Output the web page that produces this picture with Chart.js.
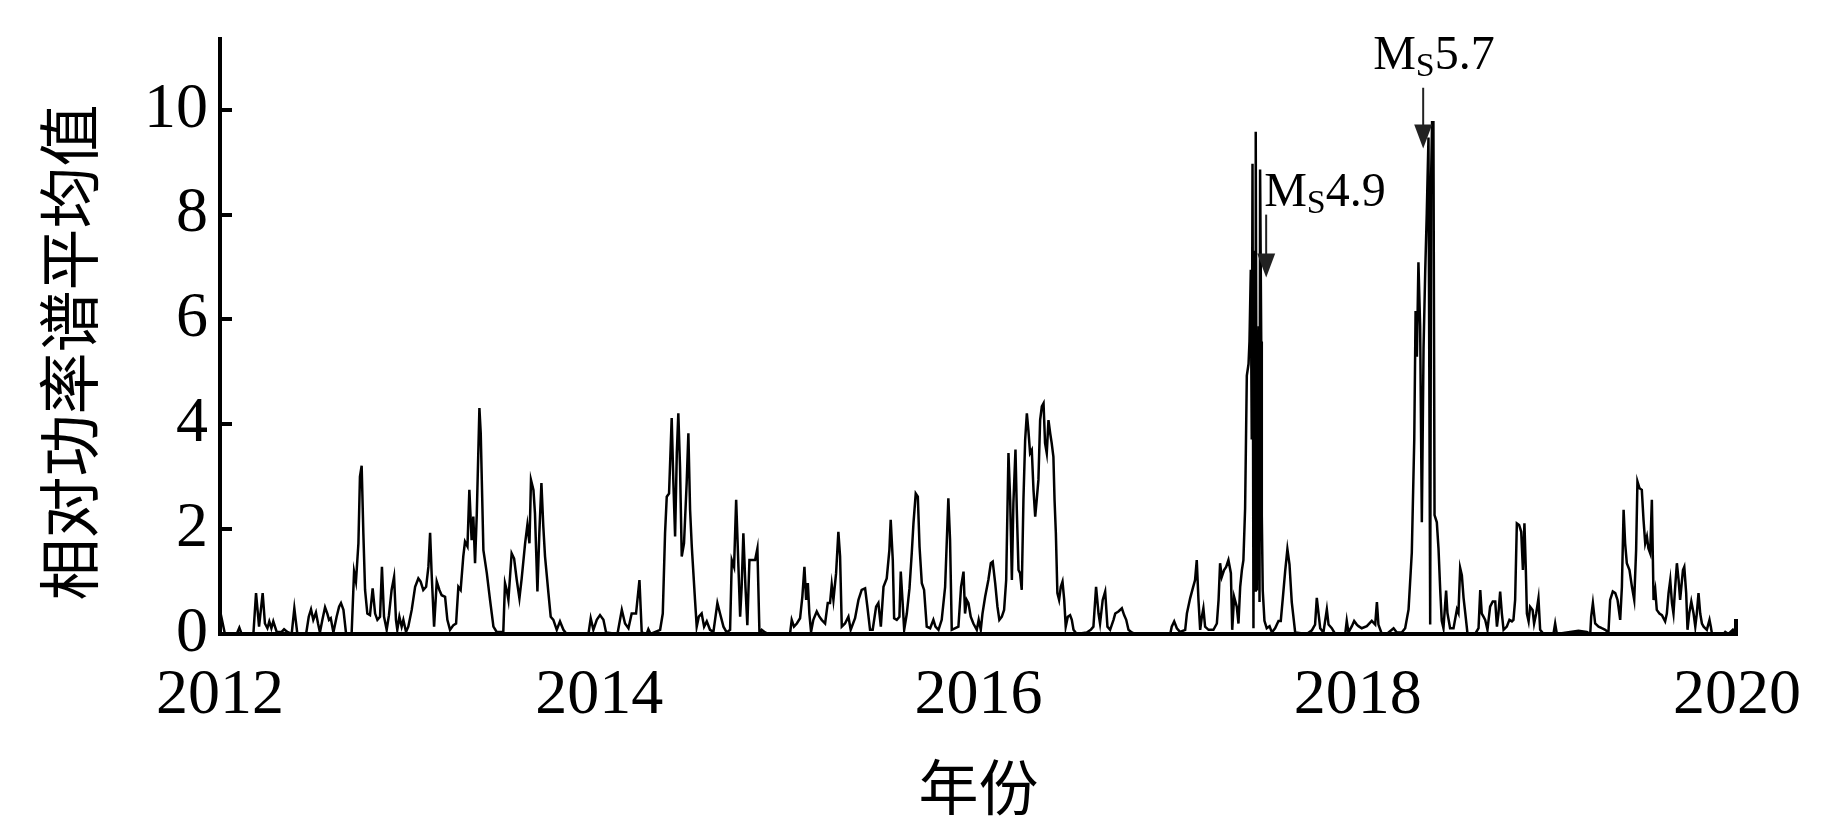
<!DOCTYPE html>
<html>
<head>
<meta charset="utf-8">
<title>相对功率谱平均值</title>
<script src="https://cdn.jsdelivr.net/npm/chart.js@4"></script>
<style>
  html, body { margin: 0; padding: 0; background: #fff; }
  #wrap { width: 1843px; height: 827px; }
</style>
</head>
<body>
<div id="wrap"><canvas id="chart" width="1843" height="827"></canvas></div>
<script>
'use strict';

// Sample times (decimal year)
var times = [
  2012.000, 2012.026, 2012.088, 2012.102, 2012.114, 2012.176, 2012.190, 2012.206, 2012.225, 2012.237,
  2012.250, 2012.260, 2012.271, 2012.281, 2012.299, 2012.325, 2012.338, 2012.355, 2012.378, 2012.392,
  2012.408, 2012.454, 2012.468, 2012.480, 2012.492, 2012.506, 2012.517, 2012.527, 2012.540, 2012.554,
  2012.566, 2012.575, 2012.584, 2012.598, 2012.615, 2012.628, 2012.638, 2012.651, 2012.665, 2012.694,
  2012.707, 2012.717, 2012.730, 2012.738, 2012.747, 2012.756, 2012.765, 2012.777, 2012.791, 2012.805,
  2012.818, 2012.830, 2012.844, 2012.854, 2012.865, 2012.879, 2012.891, 2012.905, 2012.918, 2012.928,
  2012.935, 2012.946, 2012.958, 2012.967, 2012.981, 2012.993, 2013.011, 2013.029, 2013.046, 2013.058,
  2013.072, 2013.087, 2013.099, 2013.108, 2013.116, 2013.129, 2013.143, 2013.157, 2013.169, 2013.187,
  2013.199, 2013.213, 2013.231, 2013.245, 2013.257, 2013.269, 2013.283, 2013.292, 2013.305, 2013.315,
  2013.327, 2013.336, 2013.345, 2013.354, 2013.368, 2013.375, 2013.389, 2013.407, 2013.424, 2013.442,
  2013.459, 2013.494, 2013.503, 2013.512, 2013.521, 2013.538, 2013.551, 2013.565, 2013.579, 2013.591,
  2013.609, 2013.621, 2013.632, 2013.640, 2013.653, 2013.661, 2013.674, 2013.684, 2013.695, 2013.705,
  2013.714, 2013.732, 2013.744, 2013.758, 2013.776, 2013.793, 2013.811, 2013.828, 2013.943, 2013.955,
  2013.969, 2013.987, 2014.004, 2014.022, 2014.036, 2014.096, 2014.119, 2014.136, 2014.154, 2014.171,
  2014.194, 2014.212, 2014.224, 2014.250, 2014.259, 2014.271, 2014.321, 2014.335, 2014.347, 2014.356,
  2014.368, 2014.382, 2014.391, 2014.400, 2014.409, 2014.417, 2014.426, 2014.435, 2014.447, 2014.461,
  2014.470, 2014.479, 2014.488, 2014.505, 2014.514, 2014.525, 2014.540, 2014.553, 2014.567, 2014.584,
  2014.602, 2014.623, 2014.637, 2014.655, 2014.672, 2014.690, 2014.699, 2014.711, 2014.722, 2014.734,
  2014.743, 2014.751, 2014.760, 2014.771, 2014.781, 2014.792, 2014.822, 2014.834, 2014.845, 2014.857,
  2014.875, 2014.892, 2015.006, 2015.015, 2015.027, 2015.042, 2015.059, 2015.071, 2015.082, 2015.091,
  2015.100, 2015.108, 2015.117, 2015.129, 2015.147, 2015.161, 2015.173, 2015.191, 2015.205, 2015.217,
  2015.226, 2015.235, 2015.249, 2015.261, 2015.270, 2015.279, 2015.296, 2015.314, 2015.326, 2015.349,
  2015.367, 2015.384, 2015.402, 2015.414, 2015.428, 2015.442, 2015.460, 2015.472, 2015.485, 2015.499,
  2015.516, 2015.530, 2015.537, 2015.548, 2015.555, 2015.569, 2015.583, 2015.590, 2015.599, 2015.608,
  2015.622, 2015.636, 2015.648, 2015.657, 2015.669, 2015.680, 2015.689, 2015.701, 2015.713, 2015.727,
  2015.745, 2015.762, 2015.773, 2015.789, 2015.806, 2015.824, 2015.833, 2015.841, 2015.850, 2015.859,
  2015.894, 2015.908, 2015.921, 2015.929, 2015.938, 2015.947, 2015.959, 2015.973, 2015.991, 2016.001,
  2016.012, 2016.021, 2016.035, 2016.052, 2016.065, 2016.075, 2016.088, 2016.100, 2016.110, 2016.123,
  2016.135, 2016.146, 2016.158, 2016.167, 2016.176, 2016.184, 2016.195, 2016.202, 2016.211, 2016.219,
  2016.228, 2016.237, 2016.246, 2016.255, 2016.263, 2016.272, 2016.281, 2016.290, 2016.299, 2016.307,
  2016.316, 2016.325, 2016.334, 2016.343, 2016.351, 2016.360, 2016.369, 2016.378, 2016.386, 2016.395,
  2016.401, 2016.408, 2016.416, 2016.425, 2016.434, 2016.443, 2016.452, 2016.460, 2016.471, 2016.483,
  2016.492, 2016.501, 2016.518, 2016.571, 2016.592, 2016.606, 2016.620, 2016.633, 2016.641, 2016.655,
  2016.668, 2016.680, 2016.694, 2016.712, 2016.721, 2016.738, 2016.756, 2016.768, 2016.779, 2016.791,
  2016.808, 2016.826, 2017.011, 2017.019, 2017.032, 2017.046, 2017.063, 2017.090, 2017.099, 2017.116,
  2017.130, 2017.142, 2017.151, 2017.160, 2017.169, 2017.178, 2017.186, 2017.195, 2017.213, 2017.239,
  2017.257, 2017.266, 2017.274, 2017.283, 2017.295, 2017.306, 2017.318, 2017.331, 2017.338, 2017.348,
  2017.362, 2017.371, 2017.380, 2017.389, 2017.397, 2017.406, 2017.415, 2017.424, 2017.429, 2017.436,
  2017.441, 2017.445, 2017.450, 2017.454, 2017.459, 2017.462, 2017.468, 2017.473, 2017.478, 2017.482,
  2017.485, 2017.491, 2017.494, 2017.499, 2017.508, 2017.520, 2017.535, 2017.547, 2017.564, 2017.582,
  2017.594, 2017.605, 2017.617, 2017.629, 2017.640, 2017.652, 2017.670, 2017.731, 2017.758, 2017.775,
  2017.784, 2017.793, 2017.802, 2017.819, 2017.837, 2017.846, 2017.863, 2017.881, 2017.934, 2017.942,
  2017.951, 2017.969, 2017.981, 2017.995, 2018.004, 2018.021, 2018.048, 2018.074, 2018.092, 2018.101,
  2018.109, 2018.127, 2018.153, 2018.189, 2018.206, 2018.232, 2018.250, 2018.268, 2018.285, 2018.298,
  2018.305, 2018.312, 2018.320, 2018.329, 2018.338, 2018.347, 2018.356, 2018.364, 2018.373, 2018.382,
  2018.387, 2018.392, 2018.399, 2018.405, 2018.417, 2018.426, 2018.435, 2018.443, 2018.452, 2018.466,
  2018.473, 2018.487, 2018.505, 2018.523, 2018.531, 2018.540, 2018.549, 2018.558, 2018.567, 2018.579,
  2018.619, 2018.637, 2018.646, 2018.654, 2018.663, 2018.672, 2018.684, 2018.698, 2018.712, 2018.725,
  2018.734, 2018.742, 2018.751, 2018.760, 2018.769, 2018.786, 2018.800, 2018.813, 2018.821, 2018.830,
  2018.839, 2018.851, 2018.862, 2018.871, 2018.879, 2018.886, 2018.892, 2018.901, 2018.909, 2018.922,
  2018.930, 2018.941, 2018.953, 2018.962, 2018.980, 2019.032, 2019.041, 2019.050, 2019.120, 2019.164,
  2019.208, 2019.226, 2019.231, 2019.240, 2019.252, 2019.270, 2019.287, 2019.305, 2019.322, 2019.331,
  2019.345, 2019.358, 2019.370, 2019.384, 2019.393, 2019.402, 2019.410, 2019.419, 2019.433, 2019.446,
  2019.458, 2019.468, 2019.475, 2019.486, 2019.498, 2019.507, 2019.516, 2019.525, 2019.533, 2019.542,
  2019.551, 2019.560, 2019.569, 2019.577, 2019.591, 2019.604, 2019.621, 2019.630, 2019.639, 2019.648,
  2019.657, 2019.665, 2019.674, 2019.683, 2019.692, 2019.700, 2019.715, 2019.722, 2019.732, 2019.739,
  2019.748, 2019.759, 2019.771, 2019.780, 2019.788, 2019.797, 2019.806, 2019.815, 2019.824, 2019.841,
  2019.855, 2019.862, 2019.868, 2019.929, 2019.938, 2019.955, 2019.978, 2019.991, 2020.000
];

// Mean relative power spectrum, one value per time above
var power = [
  0.45, 0, 0, 0.12, 0, 0, 0.78, 0.14, 0.78, 0.20,
  0.11, 0.24, 0.11, 0.24, 0.04, 0.04, 0.09, 0.04, 0, 0.49,
  0, 0, 0.33, 0.47, 0.27, 0.41, 0.20, 0.03, 0.27, 0.51,
  0.39, 0.27, 0.30, 0.03, 0.33, 0.52, 0.59, 0.46, 0, 0,
  1.19, 1.00, 1.73, 3.00, 3.21, 1.92, 0.84, 0.39, 0.36, 0.87,
  0.39, 0.27, 0.33, 1.28, 0.33, 0.08, 0.36, 0.84, 1.09, 0.27,
  0.08, 0.33, 0.14, 0.27, 0.04, 0.14, 0.46, 0.90, 1.06, 1.00,
  0.84, 0.90, 1.28, 1.93, 1.16, 0.14, 1.00, 0.84, 0.74, 0.71,
  0.27, 0.08, 0.17, 0.20, 0.90, 0.84, 1.48, 1.76, 1.67, 2.75,
  1.79, 2.24, 1.35, 2.27, 4.31, 3.83, 1.60, 1.16, 0.65, 0.14,
  0.04, 0.04, 0.97, 0.84, 0.65, 1.54, 1.44, 1.03, 0.68, 1.06,
  1.73, 2.08, 1.73, 2.94, 2.75, 2.30, 0.81, 1.92, 2.88, 2.05,
  1.48, 0.78, 0.33, 0.27, 0.08, 0.24, 0.08, 0, 0, 0.30,
  0.08, 0.27, 0.36, 0.27, 0.03, 0, 0.46, 0.20, 0.11, 0.39,
  0.39, 1.03, 0.03, 0, 0.09, 0, 0.08, 0.39, 1.92, 2.62,
  2.68, 4.12, 2.88, 1.86, 3.45, 4.21, 3.19, 1.48, 1.73, 2.88,
  3.83, 2.37, 1.67, 0.65, 0.14, 0.33, 0.39, 0.14, 0.24, 0.08,
  0.04, 0.59, 0.39, 0.14, 0.03, 0.08, 1.41, 1.28, 2.56, 1.28,
  0.33, 0.90, 1.92, 0.90, 0.17, 1.41, 1.41, 1.63, 0, 0.08,
  0.03, 0, 0, 0.27, 0.14, 0.20, 0.30, 0.71, 1.28, 0.65,
  0.97, 0.39, 0.04, 0.27, 0.43, 0.33, 0.27, 0.20, 0.59, 0.59,
  0.94, 0.65, 1.16, 1.95, 1.48, 0.14, 0.20, 0.33, 0.08, 0.30,
  0.65, 0.84, 0.87, 0.52, 0.08, 0.08, 0.52, 0.59, 0.14, 0.90,
  1.06, 1.60, 2.18, 1.41, 0.30, 0.27, 0.33, 1.19, 0.65, 0.08,
  0.39, 0.87, 1.54, 2.11, 2.68, 2.62, 1.67, 0.97, 0.84, 0.14,
  0.11, 0.27, 0.14, 0.08, 0.27, 0.90, 1.79, 2.59, 1.79, 0.08,
  0.14, 0.90, 1.19, 0.39, 0.65, 0.59, 0.33, 0.20, 0.08, 0.27,
  0.08, 0.39, 0.71, 1.03, 1.35, 1.38, 0.97, 0.52, 0.27, 0.33,
  0.46, 1.03, 3.45, 2.56, 1.03, 2.49, 3.52, 2.37, 1.22, 1.16,
  0.84, 2.56, 3.70, 4.21, 3.89, 3.45, 3.51, 2.75, 2.24, 2.56,
  2.94, 4.08, 4.34, 4.40, 3.64, 3.45, 4.08, 3.83, 3.64, 3.38,
  2.56, 1.92, 0.78, 0.65, 0.90, 1.00, 0.65, 0.14, 0.33, 0.36,
  0.27, 0.08, 0, 0.03, 0.08, 0.14, 0.90, 0.39, 0.20, 0.65,
  0.81, 0.14, 0.08, 0.27, 0.39, 0.43, 0.49, 0.36, 0.27, 0.08,
  0.03, 0, 0, 0.14, 0.24, 0.11, 0.04, 0.08, 0.39, 0.68,
  0.87, 1.03, 1.41, 0.65, 0.08, 0.33, 0.49, 0.14, 0.08, 0.08,
  0.20, 0.65, 1.35, 1.09, 1.22, 1.28, 1.41, 1.16, 0.08, 0.71,
  0.52, 0.20, 0.90, 1.22, 1.41, 2.40, 4.93, 5.15, 5.58, 6.95,
  3.71, 8.97, 0.11, 7.31, 0.83, 9.58, 0.83, 3.71, 5.87, 0.61,
  8.86, 5.58, 2.27, 0.83, 0.25, 0.11, 0.15, 0.03, 0.11, 0.25,
  0.25, 0.69, 1.19, 1.62, 1.33, 0.61, 0.03, 0, 0.07, 0.18,
  0.69, 0.40, 0.11, 0.03, 0.47, 0.18, 0.11, 0, 0, 0.25,
  0.03, 0.15, 0.25, 0.18, 0.15, 0.11, 0.15, 0.25, 0.18, 0.61,
  0.18, 0, 0, 0.11, 0.03, 0.03, 0.11, 0.47, 1.55, 3.71,
  6.16, 5.29, 7.09, 5.87, 2.13, 5.45, 6.95, 8.03, 9.47, 0.18,
  8.75, 9.76, 9.76, 2.27, 2.13, 1.62, 0.83, 0.25, 0.11, 0.83,
  0.40, 0.11, 0.11, 0.47, 0.40, 1.26, 1.12, 0.69, 0.40, 0,
  0, 0.11, 0.84, 0.39, 0.33, 0.27, 0.08, 0.52, 0.62, 0.62,
  0.14, 0.39, 0.81, 0.39, 0.08, 0.14, 0.27, 0.24, 0.27, 0.65,
  2.11, 2.08, 1.95, 1.22, 2.11, 1.28, 0.39, 0.24, 0.52, 0.46,
  0.20, 0.39, 0.68, 0.08, 0, 0, 0.20, 0, 0.04, 0.06,
  0.04, 0, 0.33, 0.59, 0.20, 0.14, 0.11, 0.08, 0.03, 0.65,
  0.81, 0.78, 0.65, 0.27, 0.90, 2.37, 1.73, 1.35, 1.22, 0.90,
  0.65, 1.60, 2.91, 2.78, 2.75, 2.18, 1.73, 1.86, 1.63, 1.54,
  2.56, 0.65, 0.84, 0.46, 0.39, 0.36, 0.24, 0.39, 0.78, 1.03,
  0.59, 0.39, 0.90, 1.35, 1.03, 0.65, 1.22, 1.28, 0.78, 0.08,
  0.39, 0.62, 0.39, 0.14, 0.39, 0.78, 0.39, 0.20, 0.14, 0.08,
  0.27, 0.14, 0, 0, 0.04, 0, 0.08, 0, 0
];

// Axis ticks and titles
var yearTicks = [2012, 2014, 2016, 2018, 2020];
var powerTicks = [0, 2, 4, 6, 8, 10];
var yMax = 11.35;
var xTitle = '年份';
var yTitle = '相对功率谱平均值';

// Earthquake markers: magnitude, time, arrow tip and tail values
var quakeMags = ['4.9', '5.7'];
var quakeTimes = [2017.517, 2018.345];
var arrowTips = [6.80, 9.26];
var arrowTails = [8.00, 10.42];

// Label placement relative to the arrow tail (pixels)
var labelShift = [{dx: -2, dy: -9}, {dx: -50, dy: -19}];

var serif = '"Liberation Serif", "Times New Roman", serif';
var cjk = '"Noto Sans CJK SC", sans-serif';

/**
 * Inward tick marks on the left axis and at the right end of the bottom axis,
 * plus the vertical y title (placed a little below the axis middle, as in the figure).
 */
var axisExtras = {
  id: 'axisExtras',
  afterDraw: function(chart) {
    var ctx = chart.ctx;
    var area = chart.chartArea;
    var y = chart.scales.y;
    var x = chart.scales.x;
    ctx.save();
    ctx.strokeStyle = '#000';
    ctx.lineWidth = 4;
    powerTicks.forEach(function(v) {
      var py = Math.round(y.getPixelForValue(v));
      ctx.beginPath();
      ctx.moveTo(area.left, py);
      ctx.lineTo(area.left + 12, py);
      ctx.stroke();
    });
    var px = x.getPixelForValue(yearTicks[yearTicks.length - 1]) - 1;
    ctx.beginPath();
    ctx.moveTo(px, area.bottom);
    ctx.lineTo(px, area.bottom - 15);
    ctx.stroke();

    ctx.translate(69, (area.top + area.bottom) / 2 + 16);
    ctx.rotate(-Math.PI / 2);
    ctx.fillStyle = '#000';
    ctx.font = '62px ' + cjk;
    ctx.textAlign = 'center';
    ctx.textBaseline = 'middle';
    ctx.fillText(yTitle, 0, 0);
    ctx.restore();
  }
};

/**
 * Arrows and "Ms" labels for the two earthquakes.
 */
var quakeMarks = {
  id: 'quakeMarks',
  afterDatasetsDraw: function(chart) {
    var ctx = chart.ctx;
    var x = chart.scales.x;
    var y = chart.scales.y;
    ctx.save();
    quakeMags.forEach(function(mag, i) {
      var px = x.getPixelForValue(quakeTimes[i]);
      var tip = y.getPixelForValue(arrowTips[i]);
      var tail = y.getPixelForValue(arrowTails[i]);
      var headH = 24, headW = 18;

      ctx.strokeStyle = '#222';
      ctx.lineWidth = 2;
      ctx.beginPath();
      ctx.moveTo(px, tail);
      ctx.lineTo(px, tip - headH + 2);
      ctx.stroke();

      ctx.fillStyle = '#222';
      ctx.beginPath();
      ctx.moveTo(px - headW / 2, tip - headH);
      ctx.lineTo(px + headW / 2, tip - headH);
      ctx.lineTo(px, tip);
      ctx.closePath();
      ctx.fill();

      // label: M with subscript S, then the magnitude
      var tx = px + labelShift[i].dx;
      var ty = tail + labelShift[i].dy;
      ctx.fillStyle = '#000';
      ctx.textAlign = 'left';
      ctx.textBaseline = 'alphabetic';
      ctx.font = '48px ' + serif;
      ctx.fillText('M', tx, ty);
      tx += ctx.measureText('M').width;
      ctx.font = '34px ' + serif;
      ctx.fillText('S', tx, ty + 7);
      tx += ctx.measureText('S').width;
      ctx.font = '48px ' + serif;
      ctx.fillText(mag, tx, ty);
    });
    ctx.restore();
  }
};

Chart.defaults.color = '#000';

var points = times.map(function(t, i) {
  return {x: t, y: power[i]};
});

new Chart(document.getElementById('chart').getContext('2d'), {
  type: 'line',
  data: {
    datasets: [{
      data: points,
      borderColor: '#000',
      borderWidth: 2.5,
      pointRadius: 0,
      tension: 0,
      fill: false
    }]
  },
  options: {
    responsive: false,
    animation: false,
    events: [],
    layout: {
      padding: {left: 0, top: 39, right: 106, bottom: 0}
    },
    plugins: {
      legend: {display: false},
      tooltip: {enabled: false}
    },
    scales: {
      x: {
        type: 'linear',
        min: yearTicks[0],
        max: yearTicks[yearTicks.length - 1],
        afterBuildTicks: function(scale) {
          scale.ticks = yearTicks.map(function(v) { return {value: v}; });
        },
        afterFit: function(scale) {
          scale.height = 193;
        },
        grid: {display: false, drawTicks: false},
        border: {display: true, color: '#000', width: 4},
        ticks: {
          padding: 24,
          maxRotation: 0,
          autoSkip: false,
          font: {family: serif, size: 64},
          callback: function(v) { return String(Math.round(v)); }
        },
        title: {
          display: true,
          text: xTitle,
          font: {family: cjk, size: 60},
          padding: {top: 0, bottom: 4}
        }
      },
      y: {
        type: 'linear',
        min: 0,
        max: yMax,
        afterBuildTicks: function(scale) {
          scale.ticks = powerTicks.map(function(v) { return {value: v}; });
        },
        afterFit: function(scale) {
          scale.width = 220;
          // top tick sits well below the axis end, no label overhang needed
          scale.paddingTop = 0;
        },
        grid: {display: false, drawTicks: false},
        border: {display: true, color: '#000', width: 4},
        ticks: {
          padding: 12,
          font: {family: serif, size: 64},
          callback: function(v) { return String(v); }
        }
      }
    }
  },
  plugins: [axisExtras, quakeMarks]
});
</script>
</body>
</html>
